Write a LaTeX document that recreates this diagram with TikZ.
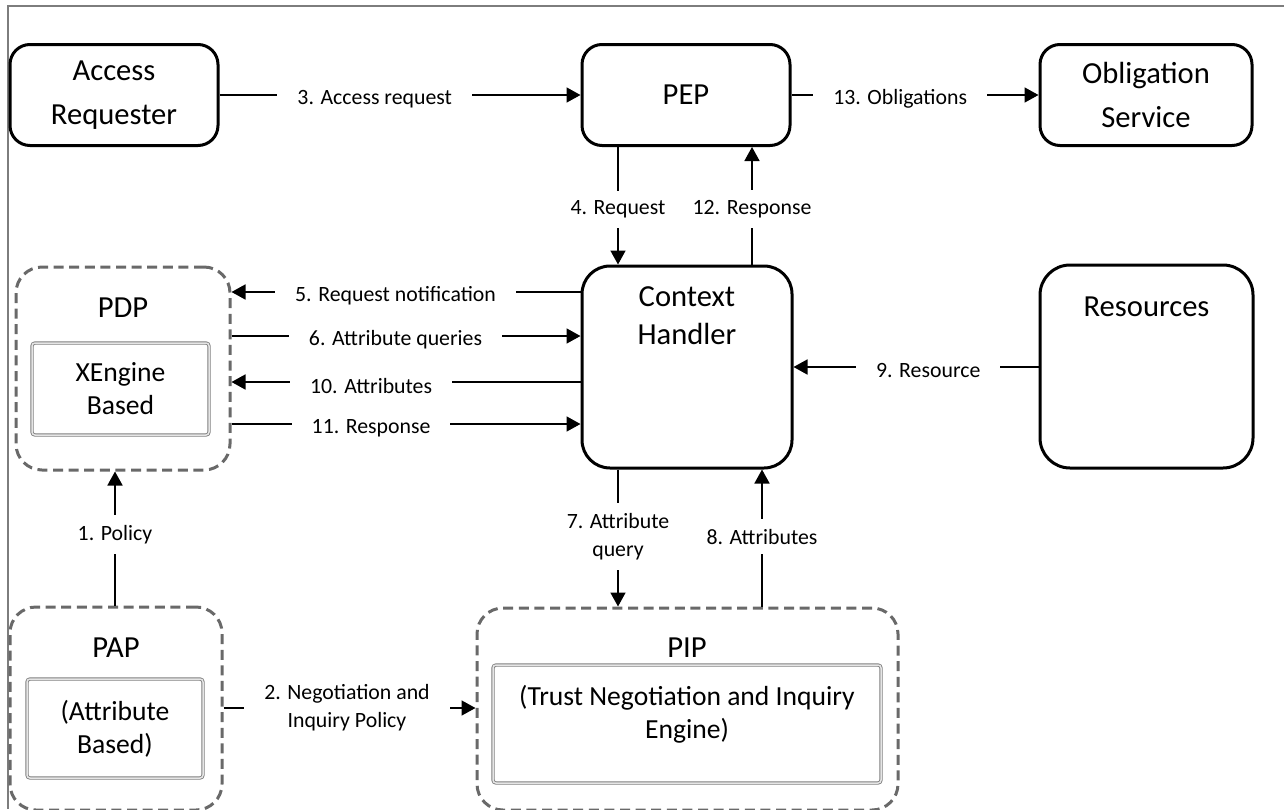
\documentclass[tikz,border=0pt]{standalone}
\usepackage{fontspec}
\setmainfont{Carlito}
\usetikzlibrary{arrows.meta}

\definecolor{dashgray}{RGB}{105,105,105}
\definecolor{framegray}{RGB}{125,125,125}

\tikzset{
  box/.style={draw, line width=1.5pt, rounded corners=10pt, align=center, inner sep=0pt,
    font=\fontsize{15.3}{22}\selectfont},
  group/.style={draw=dashgray, line width=1.5pt, dash pattern=on 5pt off 2.8pt,
    rounded corners=13pt, inner sep=0pt},
  engine/.style={draw=gray, double=gray!20, double distance=0.75pt, line width=0.45pt,
    rounded corners=1.5pt, inner sep=0pt, align=center, font=\fontsize{13.8}{16.5}\selectfont},
  title/.style={align=center, inner sep=0pt, font=\fontsize{15.3}{19}\selectfont},
  flow/.style={line width=0.85pt, -{Triangle[length=7pt,width=7.5pt]}},
  lbl/.style={fill=white, inner xsep=10pt, inner ysep=5pt, align=center,
    font=\fontsize{10.9}{14}\selectfont},
  hlbl/.style={lbl, yshift=-2pt}
}

\begin{document}
\begin{tikzpicture}[x=0.5pt, y=-0.5pt]
  \useasboundingbox (0,0) rectangle (1284,809);

  % frame
  \draw[framegray, line width=0.75pt] (1284,6) -- (8,6) -- (8,809);

  % top row
  \node[box, minimum width=104pt, minimum height=50.5pt] (ar) at (114,95) {Access\\Requester};
  \node[box, minimum width=104pt, minimum height=50.5pt] (pep) at (686,95) {PEP};
  \node[box, minimum width=106pt, minimum height=50.5pt] (obl) at (1146,95) {Obligation\\Service};

  % middle row
  \node[box, rounded corners=14pt, minimum width=105pt, minimum height=101pt] (ch) at (687,367) {};
  \node[title] (chtitle) at (687,316) {Context\\Handler};
  \node[box, rounded corners=15pt, minimum width=106.5pt, minimum height=101.5pt] (res) at (1146.5,366.5) {};
  \node[title] (restitle) at (1146.5,307) {Resources};

  \node[group, minimum width=107pt, minimum height=101.5pt] (pdp) at (123,368.5) {};
  \node[title] (pdptitle) at (123,308) {PDP};
  \node[engine, minimum width=88.5pt, minimum height=46pt] (xeng) at (120.5,389) {XEngine\\Based};

  % bottom row
  \node[group, minimum width=106pt, minimum height=101.5pt] (pap) at (116,708.5) {};
  \node[title] (paptitle) at (116,648) {PAP};
  \node[engine, minimum width=88pt, minimum height=49.5pt] (papin) at (115,728.5) {(Attribute\\Based)};

  \node[group, minimum width=210.5pt, minimum height=101pt] (pip) at (687.5,709) {};
  \node[title] (piptitle) at (687,648) {PIP};
  \node[engine, minimum width=194pt, minimum height=59pt] (pipin) at (687,724) {};
  \node[engine, draw=none, double=none] (piptext) at (687,714) {(Trust Negotiation and Inquiry\\Engine)};

  % flows
  \draw[flow] (ar) -- node[hlbl, pos=0.43] {3. Access request} (pep);
  \draw[flow] (pep) -- node[hlbl, pos=0.44] {13. Obligations} (obl);
  \draw[flow] (pep.south -| 618,0) -- node[lbl, pos=0.53] {4. Request} (ch.north -| 618,0);
  \draw[flow] (ch.north -| 752,0) -- node[lbl, pos=0.47] {12. Response} (pep.south -| 752,0);

  \draw[flow] (ch.west |- 0,292) -- node[hlbl, pos=0.53] {5. Request notification} (pdp.east |- 0,292);
  \draw[flow] (pdp.east |- 0,336) -- node[hlbl, pos=0.47] {6. Attribute queries} (ch.west |- 0,336);
  \draw[flow] (ch.west |- 0,382) -- node[hlbl, pos=0.6] {10. Attributes} (pdp.east |- 0,382);
  \draw[flow] (pdp.east |- 0,424) -- node[hlbl, pos=0.4] {11. Response} (ch.west |- 0,424);
  \draw[flow] (res.west |- 0,367) -- node[hlbl, pos=0.45] {9. Resource} (ch.east |- 0,367);

  \draw[flow] (ch.south -| 618,0) -- node[lbl, pos=0.49] {7. Attribute\\query} (pip.north -| 618,0);
  \draw[flow] (pip.north -| 762,0) -- node[lbl, pos=0.51] {8. Attributes} (ch.south -| 762,0);

  \draw[flow] (pap.north -| 115,0) -- node[lbl, pos=0.53] {1. Policy} (pdp.south -| 115,0);
  \draw[flow] (pap.east |- 0,708) -- node[lbl, pos=0.49] {2. Negotiation and\\Inquiry Policy} (pip.west |- 0,708);
\end{tikzpicture}
\end{document}
